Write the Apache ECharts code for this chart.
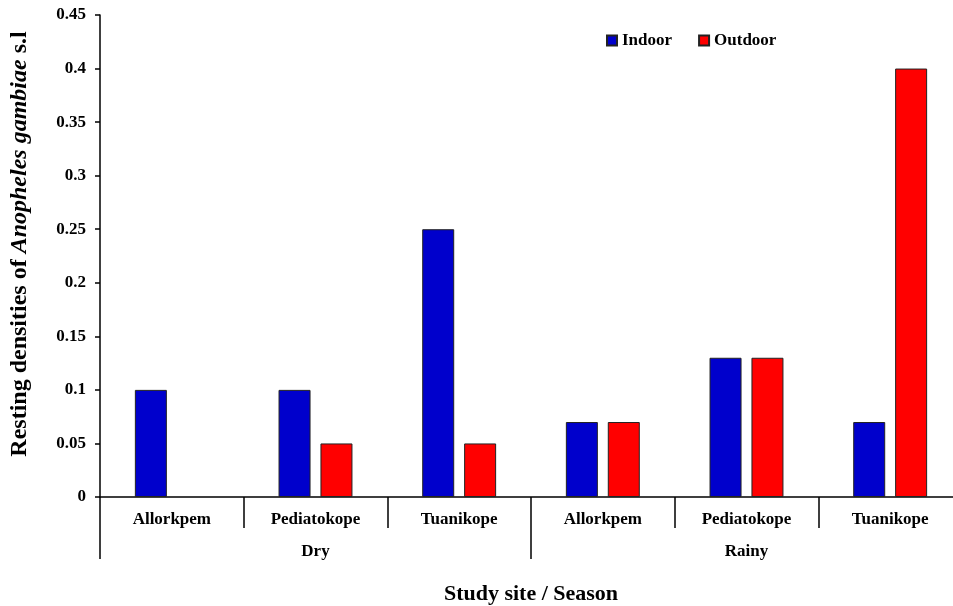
<!DOCTYPE html>
<html>
<head>
<meta charset="utf-8">
<script src="https://cdn.jsdelivr.net/npm/echarts@6/dist/echarts.min.js"></script>
<style>html,body{margin:0;padding:0;background:#fff}#c{width:953px;height:606px}</style>
</head>
<body>
<div id="c"></div>
<script>
const sites = ['Allorkpem', 'Pediatokope', 'Tuanikope', 'Allorkpem', 'Pediatokope', 'Tuanikope'];
const seasons = ['Dry', 'Rainy'];
const indoor = [0.10, 0.10, 0.25, 0.07, 0.13, 0.07];
const outdoor = [null, 0.05, 0.05, 0.07, 0.13, 0.40];
const yTicks = { min: 0, max: 0.45, interval: 0.05 };

const font = '"Liberation Serif", "Times New Roman", serif';
const chart = echarts.init(document.getElementById('c'));
chart.setOption({
  animation: false,
  backgroundColor: '#fff',
  textStyle: { fontFamily: font },
  legend: {
    data: ['Indoor', 'Outdoor'],
    left: 601, top: 27,
    icon: 'rect', itemWidth: 10, itemHeight: 10, itemGap: 26, itemTextGap: 4,
    textStyle: { fontFamily: font, fontWeight: 'bold', fontSize: 17, color: '#000' }
  },
  grid: { left: 100, width: 862, top: 15, height: 482, containLabel: false, outerBoundsMode: 'none' },
  xAxis: [
    {
      type: 'category', data: sites, position: 'bottom',
      axisLine: { lineStyle: { color: '#000', width: 1.5 } },
      axisTick: { show: true, interval: 0, length: 31, lineStyle: { color: '#000', width: 1.5 } },
      axisLabel: { interval: 0, margin: 14, fontFamily: font, fontWeight: 'bold', fontSize: 17, color: '#000' },
      name: 'Study site / Season', nameLocation: 'middle', nameGap: 86,
      nameTextStyle: { fontFamily: font, fontWeight: 'bold', fontSize: 22, color: '#000' }
    },
    {
      type: 'category', data: seasons, position: 'bottom', gridIndex: 0,
      axisLine: { show: false },
      axisTick: { show: true, interval: 0, length: 62, lineStyle: { color: '#000', width: 1.5 } },
      axisLabel: { interval: 0, margin: 46, fontFamily: font, fontWeight: 'bold', fontSize: 17, color: '#000' }
    }
  ],
  yAxis: {
    type: 'value', min: yTicks.min, max: yTicks.max, interval: yTicks.interval,
    splitLine: { show: false },
    axisLine: { show: true, lineStyle: { color: '#000', width: 1.5 } },
    axisTick: { show: true, length: 5, lineStyle: { color: '#000', width: 1.5 } },
    axisLabel: {
      margin: 14, fontFamily: font, fontWeight: 'bold', fontSize: 17, color: '#000',
      formatter: v => String(+v.toFixed(2))
    },
    name: '{n|Resting densities of }{i|Anopheles gambiae}{n| s.l}',
    nameLocation: 'middle', nameGap: 68, nameRotate: 90,
    nameTextStyle: {
      padding: [0, 0, 0, 24],
      rich: {
        n: { fontFamily: font, fontWeight: 'bold', fontSize: 24, color: '#000' },
        i: { fontFamily: font, fontWeight: 'bold', fontStyle: 'italic', fontSize: 24, color: '#000' }
      }
    }
  },
  series: [
    {
      name: 'Indoor', type: 'bar', data: indoor, xAxisIndex: 0,
      barWidth: 32, barGap: '31%',
      itemStyle: { color: '#0000CC', borderColor: '#222', borderWidth: 1 }
    },
    {
      name: 'Outdoor', type: 'bar', data: outdoor, xAxisIndex: 0,
      barWidth: 32,
      itemStyle: { color: '#FF0000', borderColor: '#222', borderWidth: 1 }
    }
  ]
});
</script>
</body>
</html>
